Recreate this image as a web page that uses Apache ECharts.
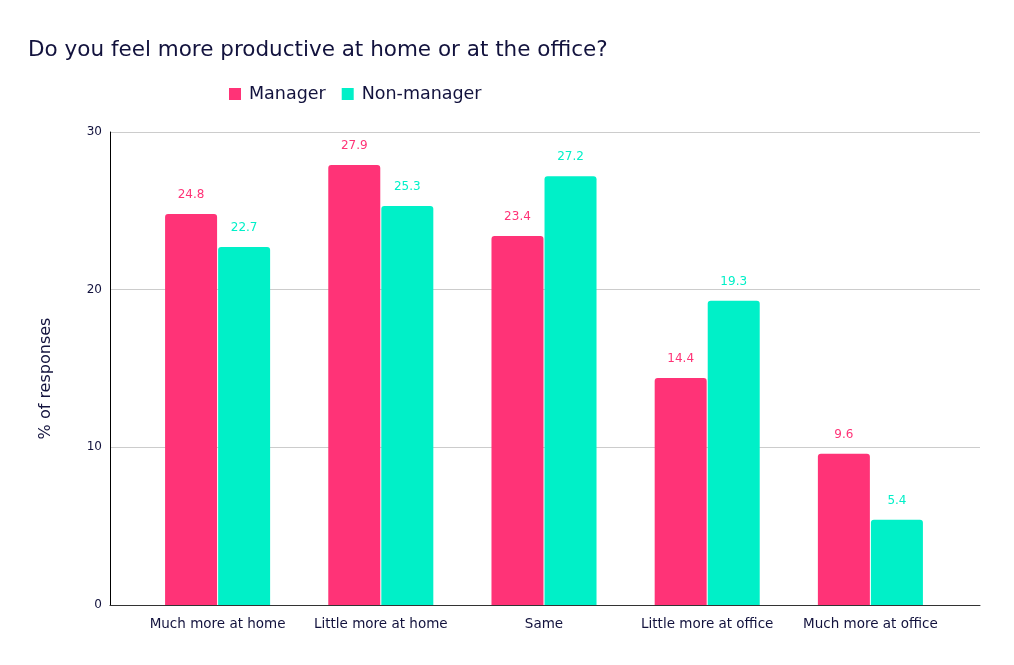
<!DOCTYPE html>
<html><head><meta charset="utf-8">
<script src="https://cdn.jsdelivr.net/npm/echarts@6/dist/echarts.min.js"></script>
<style>html,body{margin:0;padding:0;background:#fff}#c{width:1014px;height:665px}</style>
</head><body><div id="c"></div>
<script>
const categories = ['Much more at home','Little more at home','Same','Little more at office','Much more at office'];
const manager = [24.8, 27.9, 23.4, 14.4, 9.6];
const nonManager = [22.7, 25.3, 27.2, 19.3, 5.4];
const yTicks = [0, 10, 20, 30];

const FONT = 'DejaVu Sans';
const INK = '#12123d';
const PINK = '#ff3377';
const TEAL = '#00f0c8';

const chart = echarts.init(document.getElementById('c'));
chart.setOption({
  animation: false,
  textStyle: {fontFamily: FONT},
  title: {text: 'Do you feel more productive at home or at the office?', left: 23, top: 34,
    textStyle: {fontFamily: FONT, fontSize: 21.5, fontWeight: 'normal', color: INK}},
  legend: {left: 224, top: 80, itemWidth: 12, itemHeight: 12, itemGap: 16, icon: 'rect',
    textStyle: {fontFamily: FONT, fontSize: 17.5, color: INK, padding: [0, 0, 0, 3]}},
  grid: [
    {left: 110, right: 34, top: 132, bottom: 60},
    {left: 136, right: 62, top: 132, bottom: 60}
  ],
  xAxis: [
    {type: 'category', gridIndex: 0, data: [''], axisTick: {show: false}, axisLabel: {show: false},
      axisLine: {lineStyle: {color: '#333', width: 1}}},
    {type: 'category', gridIndex: 1, data: categories, axisTick: {show: false}, axisLine: {show: false},
      axisLabel: {fontFamily: FONT, fontSize: 13.5, color: INK, margin: 12, interval: 0}}
  ],
  yAxis: [
    {type: 'value', gridIndex: 0, min: 0, max: 30, interval: 10,
      name: '% of responses', nameLocation: 'middle', nameGap: 56, nameRotate: 90,
      nameTextStyle: {fontFamily: FONT, fontSize: 16, color: INK, padding: [0, 0, 0, -20]},
      axisLine: {show: true, lineStyle: {color: '#000'}}, axisTick: {show: false},
      axisLabel: {fontFamily: FONT, fontSize: 12, color: INK, margin: 8,
        formatter: v => yTicks.includes(v) ? String(v) : ''},
      splitLine: {lineStyle: {color: '#cccccc'}}},
    {type: 'value', gridIndex: 1, min: 0, max: 30, interval: 10, show: false, splitLine: {show: false}}
  ],
  series: [
    {name: 'Manager', type: 'bar', xAxisIndex: 1, yAxisIndex: 1, data: manager,
      barWidth: 52, barGap: '2%', itemStyle: {color: PINK, borderRadius: [3,3,0,0]},
      label: {show: true, position: 'top', distance: 13, color: PINK, fontFamily: FONT, fontSize: 12}},
    {name: 'Non-manager', type: 'bar', xAxisIndex: 1, yAxisIndex: 1, data: nonManager,
      barWidth: 52, barGap: '2%', itemStyle: {color: TEAL, borderRadius: [3,3,0,0]},
      label: {show: true, position: 'top', distance: 13, color: TEAL, fontFamily: FONT, fontSize: 12}}
  ]
});
</script></body></html>
